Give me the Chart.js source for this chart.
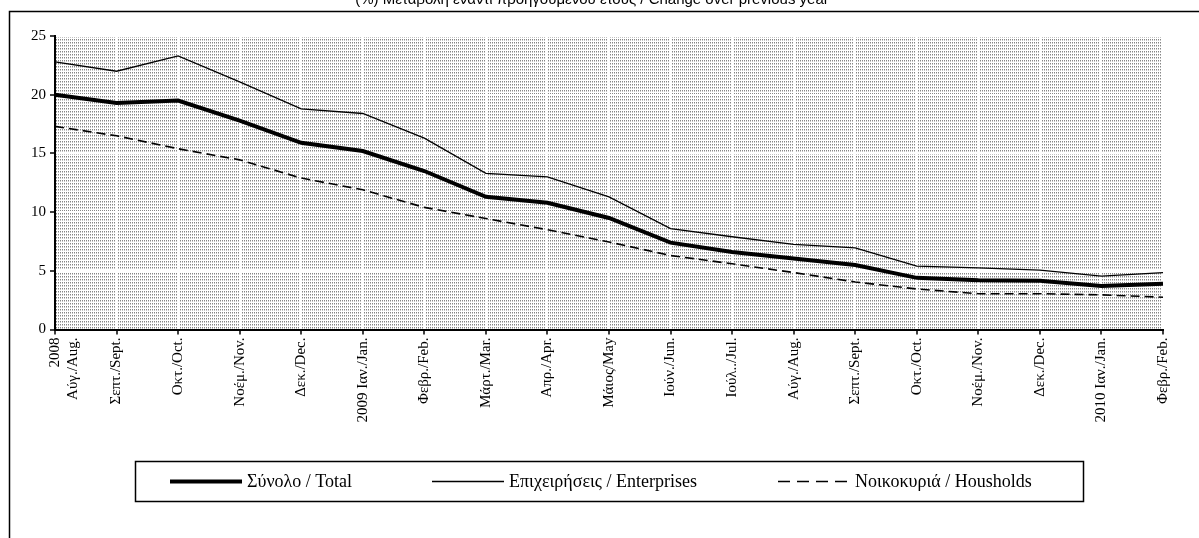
<!DOCTYPE html>
<html>
<head>
<meta charset="utf-8">
<script src="https://cdn.jsdelivr.net/npm/chart.js@4.4.1/dist/chart.umd.min.js"></script>
<style>
  html, body { margin: 0; padding: 0; background: #fff; }
</style>
</head>
<body>
<canvas id="chart" width="1199" height="538"></canvas>
<script>
// Months, Aug 2008 - Feb 2010
const months = [
  ["2008", "Αύγ./Aug."], "Σεπτ./Sept.", "Οκτ./Oct.", "Νοέμ./Nov.", "Δεκ./Dec.",
  "2009 Ιαν./Jan.", "Φεβρ./Feb.", "Μάρτ./Mar.", "Απρ./Apr.", "Μάιος/May",
  "Ιούν./Jun.", "Ιούλ../Jul.", "Αύγ./Aug.", "Σεπτ./Sept.", "Οκτ./Oct.",
  "Νοέμ./Nov.", "Δεκ./Dec.", "2010 Ιαν./Jan.", "Φεβρ./Feb."
];

// (%) change over previous year
const total = [20.0, 19.3, 19.5, 17.8, 15.9, 15.2, 13.5, 11.3, 10.8, 9.5, 7.4, 6.6, 6.05, 5.5, 4.4, 4.2, 4.15, 3.7, 3.9];
const enterprises = [22.8, 22.0, 23.3, 21.1, 18.8, 18.4, 16.3, 13.3, 13.0, 11.3, 8.6, 7.9, 7.25, 6.95, 5.4, 5.25, 5.05, 4.55, 4.85];
const households = [17.3, 16.5, 15.4, 14.45, 12.9, 11.9, 10.4, 9.45, 8.5, 7.45, 6.3, 5.6, 4.85, 4.05, 3.45, 3.05, 3.05, 2.95, 2.75];

const yTicks = [0, 5, 10, 15, 20, 25];

const titleText = "(%) Μεταβολή έναντι προηγούμενου έτους / Change over previous year";
const seriesNames = ["Σύνολο / Total", "Επιχειρήσεις / Enterprises", "Νοικοκυριά / Housholds"];
const legendDash = [[], [], [12, 7]];
const legendX = [170, 432, 778];   // start of each legend sample line

const serif = "'Liberation Serif', 'Times New Roman', serif";

// stippled grey fill for the plot area
function makePattern(ctx) {
  const tile = document.createElement("canvas");
  tile.width = 2; tile.height = 3;
  const t = tile.getContext("2d");
  t.fillStyle = "#fff"; t.fillRect(0, 0, 2, 3);
  t.fillStyle = "#858585"; t.fillRect(0, 0, 1, 1);
  t.fillStyle = "#c4c4c4"; t.fillRect(0, 1, 1, 1);
  return ctx.createPattern(tile, "repeat");
}

const decor = {
  id: "decor",
  beforeDraw(chart) {
    const {ctx, chartArea: a} = chart;
    ctx.save();
    ctx.fillStyle = "#fff";
    ctx.fillRect(0, 0, chart.width, chart.height);
    ctx.fillStyle = makePattern(ctx);
    ctx.fillRect(a.left, a.top, a.right - a.left, a.bottom - a.top);
    ctx.restore();
  },
  afterDraw(chart) {
    const ctx = chart.ctx;
    ctx.save();
    // outer frame (left + top)
    ctx.strokeStyle = "#000";
    ctx.lineWidth = 1.5;
    ctx.beginPath();
    ctx.moveTo(9.5, 538);
    ctx.lineTo(9.5, 11.5);
    ctx.lineTo(1199, 11.5);
    ctx.stroke();
    // title, cut by the top edge
    ctx.fillStyle = "#000";
    ctx.font = "15px 'Liberation Sans', Arial, sans-serif";
    ctx.textAlign = "center";
    ctx.textBaseline = "alphabetic";
    ctx.fillText(titleText, 592, 4);
    // legend
    ctx.lineWidth = 1.5;
    ctx.strokeRect(135.5, 461.5, 948, 40);
    ctx.font = "18px " + serif;
    ctx.textAlign = "left";
    ctx.textBaseline = "middle";
    chart.data.datasets.forEach((ds, i) => {
      ctx.setLineDash(legendDash[i]);
      ctx.lineWidth = ds.borderWidth;
      ctx.beginPath();
      ctx.moveTo(legendX[i], 481.5);
      ctx.lineTo(legendX[i] + 72, 481.5);
      ctx.stroke();
      ctx.setLineDash([]);
      ctx.fillText(ds.label, legendX[i] + 77, 482);
    });
    ctx.restore();
  }
};

new Chart(document.getElementById("chart"), {
  type: "line",
  data: {
    labels: months,
    datasets: [
      { label: seriesNames[0], data: total, borderColor: "#000", borderWidth: 4, pointRadius: 0, tension: 0 },
      { label: seriesNames[1], data: enterprises, borderColor: "#000", borderWidth: 1.3, pointRadius: 0, tension: 0 },
      { label: seriesNames[2], data: households, borderColor: "#000", borderWidth: 1.6, borderDash: [9, 5], pointRadius: 0, tension: 0 }
    ]
  },
  options: {
    responsive: false,
    animation: false,
    layout: { padding: { left: 10, right: 36, top: 36, bottom: 0 } },
    plugins: {
      title: { display: false },
      tooltip: { enabled: false },
      legend: { display: false }
    },
    scales: {
      x: {
        offset: false,
        afterFit(scale) { scale.height = 538 - 329.5; },
        grid: { color: "#fff", lineWidth: 2, tickColor: "#000", tickLength: 5, tickWidth: 1.5 },
        border: { color: "#000", width: 2 },
        ticks: {
          autoSkip: false, minRotation: 90, maxRotation: 90, padding: 3,
          color: "#000", font: { family: serif, size: 15 }
        }
      },
      y: {
        min: 0, max: 25,
        afterFit(scale) { scale.width = 45; },
        afterBuildTicks(scale) { scale.ticks = yTicks.map(v => ({ value: v })); },
        grid: { color: "#fff", lineWidth: 2, tickColor: "#000", tickLength: 5, tickWidth: 1.5 },
        border: { color: "#000", width: 2 },
        ticks: { padding: 4, color: "#000", font: { family: serif, size: 15 } }
      }
    }
  },
  plugins: [decor]
});
</script>
</body>
</html>
